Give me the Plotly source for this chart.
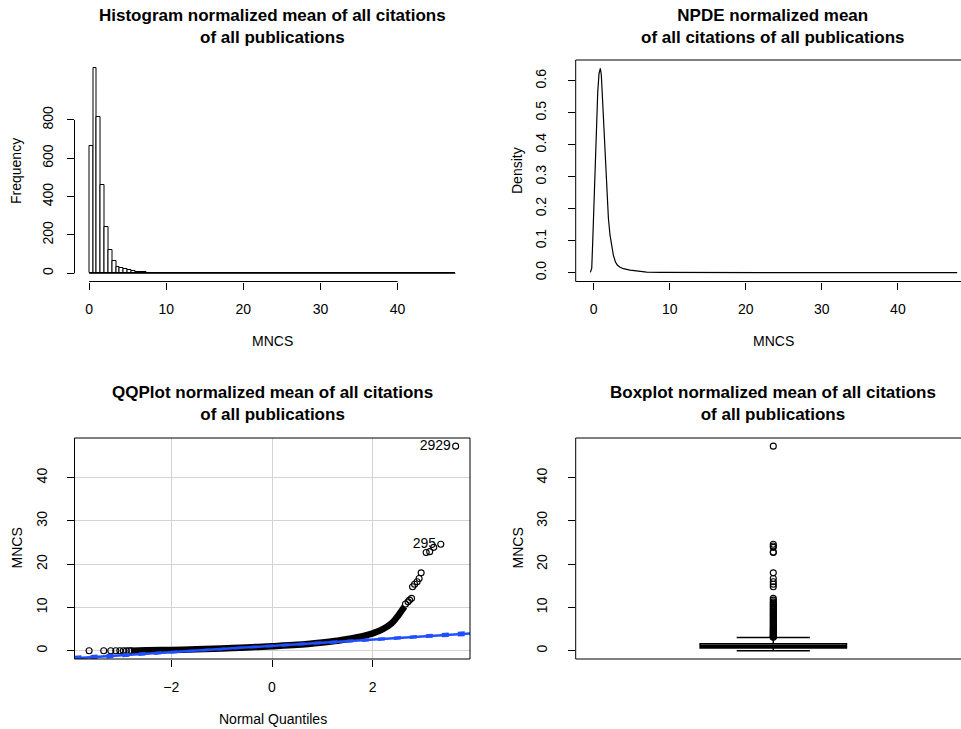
import plotly.graph_objects as go

W, H = 961, 729
FONT = "Liberation Sans, Arial, Helvetica, sans-serif"

# ---- MNCS histogram: counts per 0.5-wide bin starting at 0 ----
bin_width = 0.5
hist_counts = ([664, 1070, 814, 461, 240, 122, 64, 35, 26, 21,
                17, 12, 9, 7, 5, 4, 4, 3, 2, 2,
                1, 2, 1, 1, 1, 0, 0, 0, 0, 1,
                1, 1, 0, 1, 0, 0, 1, 0, 0, 0,
                0, 0, 0, 0, 0, 1, 1, 0, 1, 1]
               + [0] * 44 + [1])
hist_xticks = [0, 10, 20, 30, 40]
hist_yticks = [0, 200, 400, 600, 800]

# ---- kernel density estimate of MNCS ----
dens_x = [-0.44, -0.26, -0.13, 0.08, 0.30, 0.53, 0.70, 0.87, 1.00, 1.18,
          1.39, 1.58, 1.71, 1.93, 2.14, 2.36, 2.58, 2.85, 3.10, 3.46,
          3.90, 4.78, 5.66, 6.97, 8.70, 10.0, 12.0, 14.0, 15.5, 17.0,
          19.0, 22.0, 24.0, 26.0, 30.0, 40.0, 46.0, 47.3, 47.8]
dens_y = [0.001, 0.014, 0.097, 0.264, 0.420, 0.566, 0.623, 0.639, 0.618, 0.534,
          0.410, 0.305, 0.243, 0.170, 0.118, 0.081, 0.055, 0.034, 0.024, 0.017,
          0.0125, 0.008, 0.005, 0.002, 0.001, 0.0008, 0.0005, 0.0002, 0.0006, 0.0003,
          0.0, 0.0001, 0.0005, 0.0, 0.0, 0.0, 0.0, 0.0002, 0.0]
dens_xticks = [0, 10, 20, 30, 40]
dens_yticks = [0.0, 0.1, 0.2, 0.3, 0.4, 0.5, 0.6]
dens_ylabels = ["0.0", "0.1", "0.2", "0.3", "0.4", "0.5", "0.6"]

# ---- normal QQ plot: theoretical quantile vs. sorted MNCS ----
qq_low_q = [-3.63, -3.34, -3.20, -3.10, -3.02, -2.95, -2.89, -2.84, -2.80]
qq_low_v = [0.0, 0.0, 0.0, 0.0, 0.0, 0.0, 0.0, 0.0, 0.0]
qq_band_q = [-2.80, -2.50, -2.00, -1.50, -1.00, -0.50, 0.00, 0.50, 1.00, 1.30,
             1.54, 1.80, 2.00, 2.20, 2.37, 2.47, 2.57, 2.63]
qq_band_v = [0.00, 0.08, 0.18, 0.33, 0.52, 0.76, 1.02, 1.35, 1.90, 2.30,
             2.75, 3.35, 4.00, 5.00, 6.30, 7.60, 9.20, 10.2]
qq_tail_q = [2.65, 2.70, 2.73, 2.77, 2.79, 2.83, 2.88, 2.92, 2.96, 3.06,
             3.13, 3.21, 3.35, 3.645]
qq_tail_v = [10.8, 11.3, 11.7, 12.1, 14.8, 15.35, 15.95, 16.7, 18.0, 22.7,
             22.9, 23.9, 24.6, 47.3]
qq_tail_ids = ["", "", "", "", "", "", "", "", "", "",
               "", "", "295", "2929"]
# reference line through the quartiles and its pointwise envelope
qq_line_q = [-3.92, 3.93]
qq_line_v = [-1.757, 4.005]
env_q = [-3.92, -3.5, -3.0, -2.5, -2.0, -1.0, 0.0, 1.0, 2.0, 2.5, 3.0, 3.5, 3.93]
env_lo = [-2.11, -1.73, -1.26, -0.83, -0.42, 0.35, 1.09, 1.81, 2.52, 2.85, 3.14, 3.41, 3.66]
env_hi = [-1.41, -1.17, -0.90, -0.61, -0.28, 0.43, 1.15, 1.89, 2.66, 3.07, 3.50, 3.97, 4.36]
qq_xticks = [-2, 0, 2]
mncs_yticks = [0, 10, 20, 30, 40]

# ---- boxplot summary ----
box_q1, box_median, box_q3 = 0.62, 1.0, 1.6
box_low, box_high = 0.0, 3.05
box_outliers = [47.3, 24.6, 24.2, 23.9, 22.8, 22.7, 18.0, 16.7, 15.95, 15.35,
                14.8, 12.1, 11.7, 11.3, 11.0, 10.8, 10.5, 10.2, 10.0, 9.7,
                9.5, 9.2, 9.0, 8.7, 8.5, 8.2, 8.0, 7.7, 7.5, 7.2,
                7.0, 6.7, 6.5, 6.2, 6.0, 5.7, 5.5, 5.2, 5.0, 4.8,
                4.6, 4.4, 4.2, 4.0, 3.8, 3.6, 3.45, 3.3, 3.2, 3.1]


def xp(px):
    return px / W


def yp(py):
    return 1 - py / H


LEFT = [xp(74.5), xp(470)]
RIGHT = [xp(575.7), 1.0]
TOP = [yp(281.5), yp(60)]
BOTTOM = [yp(659), yp(438)]

fig = go.Figure()

# histogram bars
centers = [bin_width * (i + 0.5) for i in range(len(hist_counts))]
fig.add_trace(go.Bar(x=centers, y=hist_counts, width=bin_width,
                     marker=dict(color="white", line=dict(color="black", width=1)),
                     xaxis="x", yaxis="y", hoverinfo="skip"))
fig.add_trace(go.Scatter(x=[0, bin_width * len(hist_counts)], y=[0, 0], mode="lines",
                         line=dict(color="black", width=1), xaxis="x", yaxis="y",
                         hoverinfo="skip"))

# density curve
fig.add_trace(go.Scatter(x=dens_x, y=dens_y, mode="lines",
                         line=dict(color="black", width=1.2),
                         xaxis="x2", yaxis="y2", hoverinfo="skip"))

# QQ points
fig.add_trace(go.Scatter(x=qq_band_q, y=qq_band_v, mode="lines",
                         line=dict(color="black", width=6.5, shape="spline"),
                         xaxis="x3", yaxis="y3", hoverinfo="skip"))
fig.add_trace(go.Scatter(x=qq_low_q, y=qq_low_v, mode="markers",
                         marker=dict(symbol="circle-open", size=6, color="black",
                                     line=dict(width=1.1)),
                         xaxis="x3", yaxis="y3", hoverinfo="skip"))
fig.add_trace(go.Scatter(x=qq_tail_q, y=qq_tail_v, mode="markers+text",
                         text=qq_tail_ids, textposition="middle left",
                         textfont=dict(family=FONT, size=14, color="black"),
                         marker=dict(symbol="circle-open", size=6, color="black",
                                     line=dict(width=1.1)),
                         xaxis="x3", yaxis="y3", hoverinfo="skip"))
# reference line and envelope
BLUE = "#1f4fff"
fig.add_trace(go.Scatter(x=env_q, y=env_lo, mode="lines",
                         line=dict(color=BLUE, width=2.2, dash="7px,9px"),
                         xaxis="x3", yaxis="y3", hoverinfo="skip"))
fig.add_trace(go.Scatter(x=env_q, y=env_hi, mode="lines",
                         line=dict(color=BLUE, width=2.2, dash="7px,9px"),
                         xaxis="x3", yaxis="y3", hoverinfo="skip"))
fig.add_trace(go.Scatter(x=qq_line_q, y=qq_line_v, mode="lines",
                         line=dict(color=BLUE, width=2.5),
                         xaxis="x3", yaxis="y3", hoverinfo="skip"))

# boxplot
fig.add_trace(go.Box(x=[1], q1=[box_q1], median=[box_median], q3=[box_q3],
                     lowerfence=[box_low], upperfence=[box_high],
                     orientation="v", width=0.4, whiskerwidth=0.5,
                     boxpoints=False, fillcolor="white",
                     line=dict(color="black", width=1.5),
                     xaxis="x4", yaxis="y4", hoverinfo="skip"))
fig.add_trace(go.Scatter(x=[0.8, 1.2], y=[box_median, box_median], mode="lines",
                         line=dict(color="black", width=3.5),
                         xaxis="x4", yaxis="y4", hoverinfo="skip"))
fig.add_trace(go.Scatter(x=[1] * len(box_outliers), y=box_outliers, mode="markers",
                         marker=dict(symbol="circle-open", size=6, color="black",
                                     line=dict(width=1.1)),
                         xaxis="x4", yaxis="y4", hoverinfo="skip"))

tickfont = dict(family=FONT, size=14, color="black")
common = dict(ticks="outside", ticklen=7, tickwidth=1, tickcolor="black",
              showgrid=False, zeroline=False, showline=False, tickfont=tickfont,
              fixedrange=True)

fig.update_layout(
    width=W, height=H, margin=dict(l=0, r=0, t=0, b=0),
    paper_bgcolor="white", plot_bgcolor="white", showlegend=False,
    bargap=0,
    xaxis=dict(domain=LEFT, range=[-1.9, 49.4], tickvals=hist_xticks, anchor="y",
               ticklabelstandoff=8, **common),
    yaxis=dict(domain=TOP, range=[-42.8, 1112.8], tickvals=hist_yticks, anchor="x",
               tickangle=-90, ticklabelstandoff=8, **common),
    xaxis2=dict(domain=RIGHT, range=[-2.37, 48.3], tickvals=dens_xticks, anchor="y2",
                ticklabelstandoff=8, **common),
    yaxis2=dict(domain=TOP, range=[-0.0275, 0.665], tickvals=dens_yticks,
                ticktext=dens_ylabels, anchor="x2", tickangle=-90,
                ticklabelstandoff=16, **common),
    xaxis3=dict(domain=LEFT, range=[-3.92, 3.93], tickvals=qq_xticks, anchor="y3",
                ticklabelstandoff=8, **{**common, "showgrid": True},
                gridcolor="#d3d3d3", gridwidth=1),
    yaxis3=dict(domain=BOTTOM, range=[-1.92, 49.18], tickvals=mncs_yticks, anchor="x3",
                tickangle=-90, ticklabelstandoff=14, **{**common, "showgrid": True},
                gridcolor="#d3d3d3", gridwidth=1),
    xaxis4=dict(domain=RIGHT, range=[0.46, 1.513], anchor="y4", showticklabels=False,
                **{**common, "ticks": ""}),
    yaxis4=dict(domain=BOTTOM, range=[-1.92, 49.18], tickvals=mncs_yticks, anchor="x4",
                tickangle=-90, ticklabelstandoff=15, **common),
)

# axis lines of the histogram span only the labelled ticks
line_style = dict(color="black", width=1)
fig.add_shape(type="line", xref="x", yref="y domain", x0=hist_xticks[0], x1=hist_xticks[-1],
              y0=0, y1=0, line=line_style)
fig.add_shape(type="line", xref="x domain", yref="y", x0=0, x1=0,
              y0=hist_yticks[0], y1=hist_yticks[-1], line=line_style)
# plot frames
fig.add_shape(type="rect", xref="x2 domain", yref="y2 domain", x0=0, x1=1.03, y0=0, y1=1,
              line=line_style, layer="above")
fig.add_shape(type="rect", xref="x3 domain", yref="y3 domain", x0=0, x1=1, y0=0, y1=1,
              line=line_style, layer="above")
fig.add_shape(type="rect", xref="x4 domain", yref="y4 domain", x0=0, x1=1.03, y0=0, y1=1,
              line=line_style, layer="above")


def title(text, cx, cy):
    fig.add_annotation(text=text, x=xp(cx), y=yp(cy), xref="paper", yref="paper",
                       showarrow=False, xanchor="center", yanchor="middle",
                       font=dict(family=FONT, size=17, color="black"))


def label(text, cx, cy, angle=0):
    fig.add_annotation(text=text, x=xp(cx), y=yp(cy), xref="paper", yref="paper",
                       showarrow=False, xanchor="center", yanchor="middle",
                       textangle=angle, font=dict(family=FONT, size=14, color="black"))


title("<b>Histogram normalized mean of all citations<br>of all publications</b>", 272.5, 26.5)
title("<b>NPDE normalized mean<br>of all citations of all publications</b>", 773.3, 26.5)
title("<b>QQPlot normalized mean of all citations<br>of all publications</b>", 272.5, 404)
title("<b>Boxplot normalized mean of all citations<br>of all publications</b>", 773.3, 404)

label("MNCS", 272.5, 341)
label("MNCS", 773.3, 341)
label("Normal Quantiles", 272.5, 719)
label("Frequency", 16, 171, -90)
label("Density", 517, 171, -90)
label("MNCS", 16, 548.5, -90)
label("MNCS", 517, 548.5, -90)

fig.write_html("out.html")
